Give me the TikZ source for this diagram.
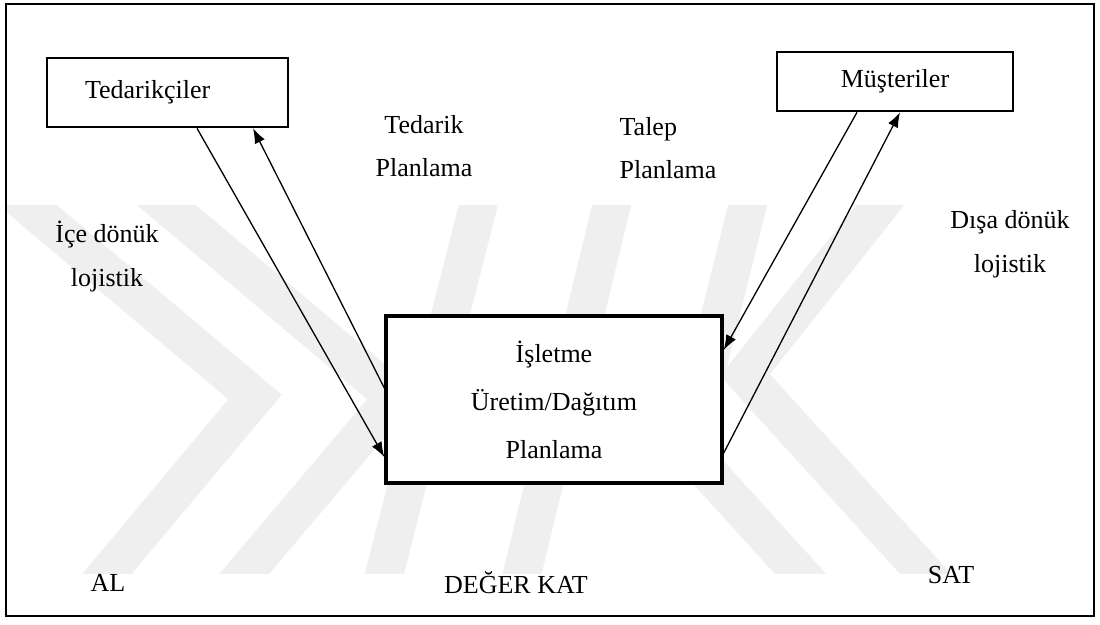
\documentclass[tikz,border=0pt]{standalone}
\usepackage{fontspec}
\setmainfont{Liberation Serif}
\usepackage{tikz}
\usetikzlibrary{arrows.meta}
\definecolor{wmcolor}{RGB}{239,239,239}

\begin{document}
\begin{tikzpicture}[
        x=1pt, y=-1pt,
        font=\fontsize{26}{44}\selectfont,
        box/.style={rectangle, draw=black, line width=2.6pt, fill=white, align=center},
        txt/.style={align=center, inner sep=0pt},
        band/.style={wmcolor, line width=38pt, line join=miter},
        arr/.style={-{Latex[length=15pt,width=11pt]}, line width=1.3pt}
    ]
        \useasboundingbox (0,0) rectangle (1100,624);

        % Watermark
        \begin{scope}
            \clip (6,205) rectangle (1094,573);
            \draw[band] (-7,176) -- (255,397) -- (86,599);
            \draw[band] (132,176) -- (394,397) -- (223,599);
            \draw[band] (486,175) -- (377,603);
            \draw[band] (619,175) -- (515,603);
            \draw[band] (755,175) -- (687,449) -- (827,603);
            \draw[band] (904,175) -- (745,375) -- (952,603);
        \end{scope}

        % Frame
        \draw[line width=1.8pt] (6,4) rectangle (1094,616);

        % Boxes
        \node[box, minimum width=241pt, minimum height=69pt, text width=165pt, inner xsep=38pt, align=left] (tedarik) at (167.5,92.5) {Tedarikçiler};
        \node[box, minimum width=236pt, minimum height=59pt] (musteri) at (895,81.5) {Müşteriler};
        \node[box, line width=3.4pt, minimum width=336pt, minimum height=167pt, font=\fontsize{26}{48}\selectfont] (isletme) at (554,399.5) {İşletme\\Üretim/Dağıtım\\Planlama};

        % Labels
        \node[txt, font=\fontsize{26}{43}\selectfont] (tedplan) at (424,146.5) {Tedarik\\Planlama};
        \node[txt, align=left, font=\fontsize{26}{43}\selectfont] (talplan) at (668,148.5) {Talep\\Planlama};
        \node[txt] (icelog) at (107,257) {İçe dönük\\lojistik};
        \node[txt] (disalog) at (1010,244) {Dışa dönük\\lojistik};
        \node[txt] (al) at (108,583) {AL};
        \node[txt] (degerkat) at (516,583) {DEĞER KAT};
        \node[txt] (sat) at (951,575) {SAT};

        % Arrows
        \draw[arr] ([xshift=29.5pt]tedarik.south) -- ([yshift=-57.5pt]isletme.west);
        \draw[arr] ([yshift=11.5pt]isletme.west) -- ([xshift=85.5pt]tedarik.south);
        \draw[arr] ([xshift=-38pt]musteri.south) -- ([yshift=49.5pt]isletme.east);
        \draw[arr] ([yshift=-53.5pt]isletme.east) -- ([xshift=5pt]musteri.south);
    \end{tikzpicture}
\end{document}
